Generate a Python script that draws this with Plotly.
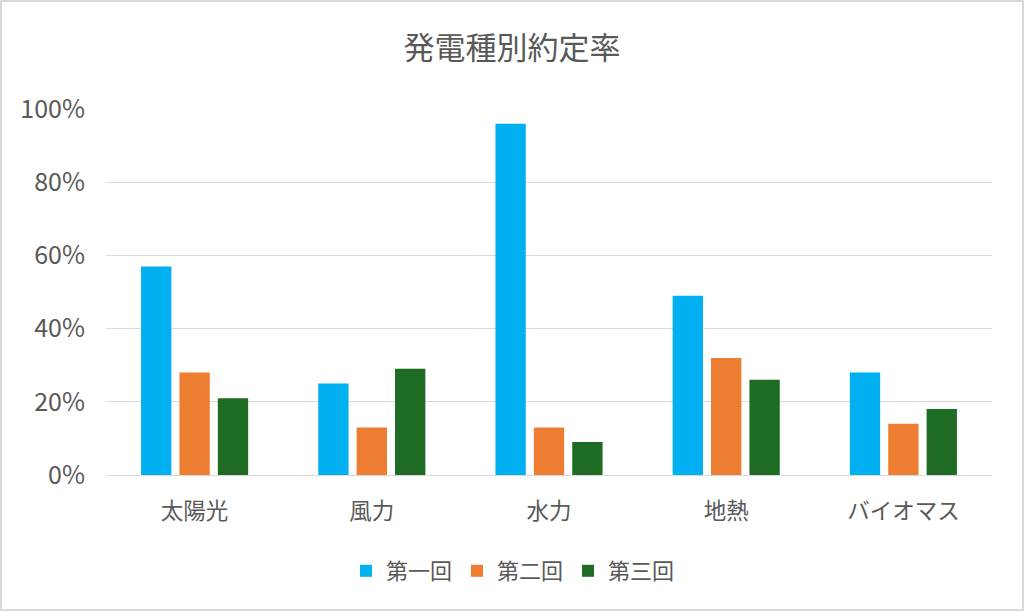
import plotly.graph_objects as go

CATEGORIES = ['太陽光', '風力', '水力', '地熱', 'バイオマス']

ROUND_1 = [0.57, 0.25, 0.96, 0.49, 0.28]
ROUND_2 = [0.28, 0.13, 0.13, 0.32, 0.14]
ROUND_3 = [0.21, 0.29, 0.09, 0.26, 0.18]

SERIES_NAMES = ['第一回', '第二回', '第三回']
COLORS = ['#00B0F0', '#ED7D31', '#1E6B24']

FONT = 'Noto Sans CJK JP'
GREY = '#595959'
LINE = '#D9D9D9'

fig = go.Figure()
for name, vals, col in zip(SERIES_NAMES, [ROUND_1, ROUND_2, ROUND_3], COLORS):
    fig.add_trace(go.Bar(x=CATEGORIES, y=vals, name=name, marker_color=col,
                         marker_line_width=0))

fig.update_layout(
    width=1024, height=611,
    paper_bgcolor='white', plot_bgcolor='white',
    font=dict(family=FONT, color=GREY),
    title=dict(text='発電種別約定率', x=0.5, xanchor='center', y=1 - 48 / 611, yanchor='middle',
               font=dict(size=31, color=GREY)),
    margin=dict(l=106, r=32, t=109, b=136),
    barmode='group', bargap=0.35, bargroupgap=0.21,
    legend=dict(orientation='h', x=0.5 - 36 / 886, xanchor='center', y=-96 / 366, yanchor='middle',
                font=dict(size=22, color=GREY), itemwidth=30, traceorder='normal'),
    xaxis=dict(showline=True, linecolor=LINE, linewidth=1, ticks='',
               tickfont=dict(size=22.5, color=GREY), showgrid=False, ticklabelstandoff=16),
    yaxis=dict(range=[0, 1], dtick=0.2, tickformat='.0%', gridcolor=LINE,
               gridwidth=1, zeroline=False, ticks='', ticklabelstandoff=20,
               tickfont=dict(size=25, color=GREY)),
    shapes=[dict(type='rect', xref='paper', yref='paper',
                 x0=-105 / 886, x1=1 + 31 / 886, y0=-135 / 366, y1=1 + 108 / 366,
                 line=dict(color=LINE, width=2))],
)

fig.write_html('out.html', config={'displayModeBar': False},
               post_script="document.body.style.margin='0';")
